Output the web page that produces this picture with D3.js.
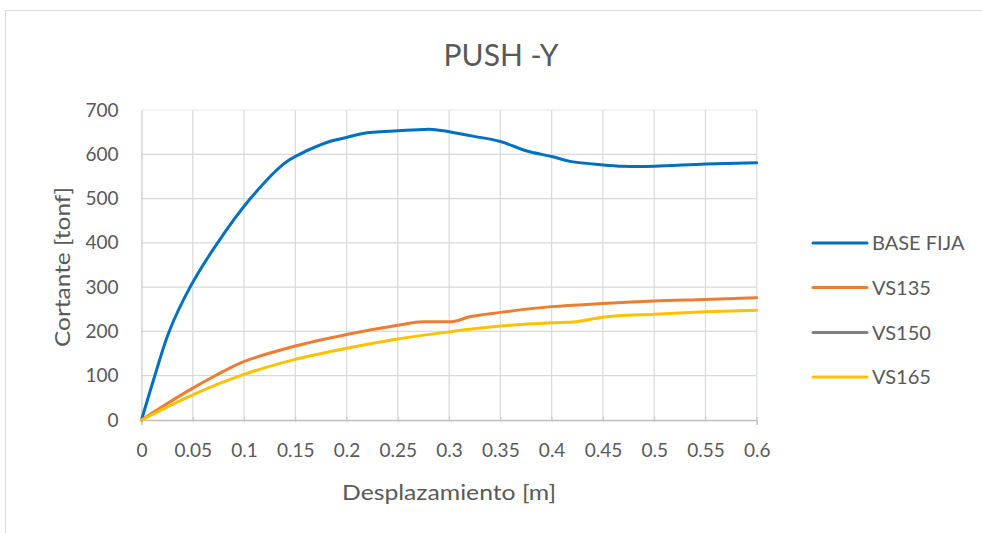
<!DOCTYPE html>
<html>
<head>
<meta charset="utf-8">
<script src="https://cdn.jsdelivr.net/npm/d3@7"></script>
<style>
  html, body { margin: 0; padding: 0; background: #fff; }
  svg { display: block; }
  text { font-family: Lato, "Open Sans", sans-serif; fill: #595959; }
</style>
</head>
<body>
<svg id="chart" width="982" height="533"></svg>
<script>
// Pushover curves: base shear [tonf] vs. roof displacement [m]
const baseFijaX = [0, 0.013, 0.027, 0.0474, 0.0742, 0.1062, 0.139, 0.155, 0.17, 0.185, 0.2, 0.216, 0.25, 0.2745, 0.284, 0.3, 0.323, 0.35, 0.375, 0.4, 0.418, 0.45, 0.47, 0.5, 0.55, 0.6];
const baseFijaY = [0, 100, 200, 300, 400, 500, 579, 601, 617, 630, 638, 647, 653, 656, 656, 651, 641, 629, 608, 595, 584, 576, 573, 573, 578, 581];

const vs135X = [0, 0.05, 0.0727, 0.092, 0.15, 0.2, 0.25, 0.2746, 0.302, 0.32, 0.35, 0.4, 0.45, 0.5, 0.55, 0.6];
const vs135Y = [0, 72, 101, 124, 167, 193, 214, 222, 222, 233, 243, 256, 263, 268.6, 272, 276];

const vs150X = [];
const vs150Y = [];

const vs165X = [0, 0.05, 0.1, 0.15, 0.2, 0.25, 0.3, 0.35, 0.4, 0.424, 0.45, 0.5, 0.55, 0.6];
const vs165Y = [0, 57, 103, 137, 162, 183, 199, 212, 219.6, 222, 232, 239, 244.5, 248];

const seriesNames = ["BASE FIJA", "VS135", "VS150", "VS165"];
const seriesColors = ["#0070C0", "#ED7D31", "#7F7F7F", "#FFC000"];

const xTicks = [0, 0.05, 0.1, 0.15, 0.2, 0.25, 0.3, 0.35, 0.4, 0.45, 0.5, 0.55, 0.6];
const yTicks = [0, 100, 200, 300, 400, 500, 600, 700];

const zip = (xs, ys) => xs.map((x, i) => ({ x, y: ys[i] }));
const series = [
  zip(baseFijaX, baseFijaY),
  zip(vs135X, vs135Y),
  zip(vs150X, vs150Y),
  zip(vs165X, vs165Y)
];

const svg = d3.select("#chart");

// chart frame
svg.append("rect")
  .attr("x", 5.5).attr("y", 10.5)
  .attr("width", 1000).attr("height", 600)
  .attr("fill", "#fff").attr("stroke", "#d9d9d9").attr("stroke-width", 1);

const plot = { left: 141.5, right: 756.7, top: 110, bottom: 420 };

const x = d3.scaleLinear().domain([0, 0.6]).range([plot.left, plot.right]);
const y = d3.scaleLinear().domain([0, 700]).range([plot.bottom, plot.top]);

// gridlines
const grid = svg.append("g");
grid.selectAll("line.v").data(xTicks.slice(1)).join("line")
  .attr("x1", d => x(d)).attr("x2", d => x(d))
  .attr("y1", plot.top).attr("y2", plot.bottom)
  .attr("stroke", d => d === 0.6 ? "#d6dbe8" : "#d9d9d9").attr("stroke-width", 1.2);
grid.selectAll("line.h").data(yTicks.slice(1)).join("line")
  .attr("x1", plot.left).attr("x2", plot.right)
  .attr("y1", d => y(d)).attr("y2", d => y(d))
  .attr("stroke", d => d === 700 ? "#e6e8ee" : "#d9d9d9").attr("stroke-width", 1.2);

// axes
const xAxis = d3.axisBottom(x).tickValues(xTicks).tickSize(5).tickPadding(19)
  .tickFormat(d => String(+d.toFixed(2)));
const gx = svg.append("g").attr("transform", `translate(0,${plot.bottom})`).call(xAxis);
gx.select(".domain").attr("stroke", "#bfbfbf").attr("stroke-width", 1.5);
gx.selectAll(".tick line").attr("stroke", "#c8c8c8").attr("y1", -3).attr("y2", 2);
gx.selectAll(".tick text").attr("font-size", 19).attr("fill", "#595959")
  .style("font-family", "Lato, sans-serif");

const yAxis = d3.axisLeft(y).tickValues(yTicks).tickSize(0).tickPadding(23);
const gy = svg.append("g").attr("transform", `translate(${plot.left},0)`).call(yAxis);
gy.select(".domain").attr("stroke", "#c8c8c8").attr("stroke-width", 1.2);
gy.selectAll(".tick text").attr("font-size", 19).attr("fill", "#595959")
  .style("font-family", "Lato, sans-serif");

// curves
const curveFor = i => i === 0 ? d3.curveCatmullRom.alpha(0.5) : d3.curveMonotoneX;
svg.append("g").selectAll("path").data(series).join("path")
  .attr("d", (d, i) => d.length
    ? d3.line().x(p => x(p.x)).y(p => y(p.y)).curve(curveFor(i))(d)
    : null)
  .attr("fill", "none")
  .attr("stroke", (d, i) => seriesColors[i])
  .attr("stroke-width", 3)
  .attr("stroke-linejoin", "round")
  .attr("stroke-linecap", "round");

// title
svg.append("text").attr("x", 501).attr("y", 66).attr("text-anchor", "middle")
  .attr("font-size", 30).text("PUSH -Y");

// axis titles
svg.append("text").attr("x", 449).attr("y", 500).attr("text-anchor", "middle")
  .attr("font-size", 22).attr("textLength", 214).attr("lengthAdjust", "spacingAndGlyphs")
  .text("Desplazamiento [m]");
svg.append("text").attr("transform", `translate(70,267) rotate(-90)`)
  .attr("text-anchor", "middle").attr("font-size", 22)
  .attr("textLength", 160).attr("lengthAdjust", "spacingAndGlyphs")
  .text("Cortante [tonf]");

// legend
const legendY = [243, 287.5, 332.5, 377];
const lg = svg.append("g").selectAll("g").data(seriesNames).join("g")
  .attr("transform", (d, i) => `translate(813,${legendY[i]})`);
lg.append("line").attr("x1", 0).attr("x2", 54).attr("y1", 0).attr("y2", 0)
  .attr("stroke", (d, i) => seriesColors[i]).attr("stroke-width", 3).attr("stroke-linecap", "round");
lg.append("text").attr("x", 59).attr("y", 0).attr("dy", "0.35em")
  .attr("font-size", 20).text(d => d);
</script>
</body>
</html>
